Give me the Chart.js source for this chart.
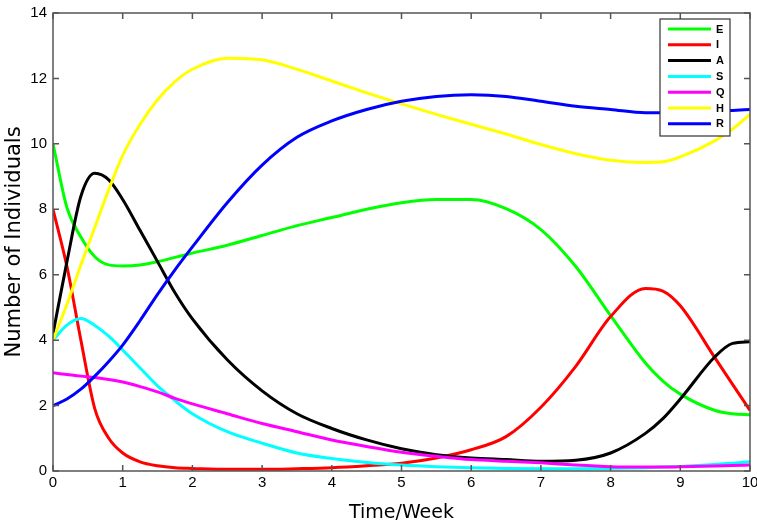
<!DOCTYPE html>
<html><head><meta charset="utf-8">
<script src="https://cdn.jsdelivr.net/npm/chart.js@4.4.0/dist/chart.umd.min.js"></script>
<style>html,body{margin:0;padding:0;background:#fff;}#wrap{width:757px;height:525px;}</style>
</head><body><div id="wrap"><canvas id="c" width="757" height="525"></canvas></div>
<script>
const time = [0,0.2,0.4,0.6,0.8,1,1.25,1.5,1.75,2,2.5,3,3.5,4,4.5,5,5.5,6,6.5,7,7.5,8,8.5,8.75,9,9.5,9.75,10];
const E = [10,8.05,7.15,6.55,6.3,6.27,6.3,6.4,6.53,6.66,6.9,7.2,7.5,7.75,8.0,8.2,8.3,8.3,8.02,7.38,6.25,4.75,3.3,2.75,2.35,1.85,1.75,1.72];
const I = [8,6.25,4.0,1.9,1.0,0.55,0.28,0.16,0.1,0.08,0.05,0.05,0.07,0.1,0.16,0.24,0.4,0.65,1.05,1.95,3.2,4.72,5.58,5.5,5.05,3.45,2.65,1.85];
const A = [4.2,6.4,8.4,9.1,8.9,8.3,7.35,6.4,5.45,4.65,3.4,2.45,1.75,1.3,0.95,0.68,0.5,0.4,0.35,0.3,0.33,0.55,1.15,1.6,2.2,3.5,3.9,3.95];
const S = [4.0,4.46,4.66,4.45,4.12,3.7,3.15,2.6,2.15,1.75,1.2,0.85,0.55,0.38,0.26,0.18,0.13,0.1,0.08,0.07,0.07,0.08,0.1,0.12,0.14,0.2,0.24,0.28];
const Q = [3.0,2.95,2.9,2.86,2.8,2.72,2.58,2.42,2.22,2.05,1.75,1.45,1.2,0.95,0.75,0.57,0.45,0.35,0.3,0.25,0.18,0.13,0.12,0.12,0.13,0.15,0.17,0.18];
const H = [4.0,5.1,6.3,7.45,8.6,9.65,10.6,11.35,11.9,12.28,12.62,12.57,12.28,11.92,11.56,11.22,10.9,10.6,10.3,9.98,9.7,9.5,9.43,9.45,9.6,10.1,10.45,10.9];
const R = [2.0,2.2,2.5,2.9,3.35,3.85,4.6,5.4,6.15,6.85,8.2,9.35,10.2,10.7,11.05,11.3,11.45,11.5,11.45,11.3,11.15,11.05,10.95,10.95,10.95,11.0,11.02,11.05];
const seriesNames = ['E','I','A','S','Q','H','R'];
const seriesValues = [E,I,A,S,Q,H,R];
const seriesColors = ['#00ff00','#ff0000','#000000','#00ffff','#ff00ff','#ffff00','#0000ff'];
const xTicks = [0,1,2,3,4,5,6,7,8,9,10];
const yTicks = [0,2,4,6,8,10,12,14];

const tickFont = {family:"'Liberation Sans Narrow','Liberation Sans',Arial,sans-serif", size:15};

const frame = {
  id:'frame',
  afterDatasetsDraw(chart){
    const {ctx, chartArea:a, scales:{x,y}} = chart;
    ctx.save();
    ctx.strokeStyle='#555'; ctx.lineWidth=1.5;
    ctx.strokeRect(a.left, a.top, a.right-a.left, a.bottom-a.top);
    ctx.beginPath();
    xTicks.forEach(v=>{const px=x.getPixelForValue(v);
      ctx.moveTo(px,a.bottom); ctx.lineTo(px,a.bottom-6);
      ctx.moveTo(px,a.top); ctx.lineTo(px,a.top+6);});
    yTicks.forEach(v=>{const py=y.getPixelForValue(v);
      ctx.moveTo(a.left,py); ctx.lineTo(a.left+6,py);
      ctx.moveTo(a.right,py); ctx.lineTo(a.right-6,py);});
    ctx.stroke();
    // legend
    const lx=660, ly=19, lw=70, lh=117;
    ctx.fillStyle='#fff'; ctx.fillRect(lx,ly,lw,lh);
    ctx.strokeStyle='#333'; ctx.lineWidth=1.2; ctx.strokeRect(lx,ly,lw,lh);
    ctx.font="bold 11px 'Liberation Sans',Arial,sans-serif";
    ctx.textBaseline='middle'; ctx.textAlign='left';
    chart.data.datasets.forEach((d,i)=>{
      const yy = ly+10+i*15.8;
      ctx.strokeStyle=d.borderColor; ctx.lineWidth=3;
      ctx.beginPath(); ctx.moveTo(lx+8,yy); ctx.lineTo(lx+51,yy); ctx.stroke();
      ctx.fillStyle='#000'; ctx.fillText(d.label, lx+56, yy+0.5);
    });
    ctx.restore();
  }
};

new Chart(document.getElementById('c'), {
  type:'line',
  data:{
    datasets: seriesNames.map((n,i)=>({
      label:n,
      data: time.map((t,k)=>({x:t,y:seriesValues[i][k]})),
      borderColor: seriesColors[i],
      backgroundColor: seriesColors[i],
      borderWidth:3,
      pointRadius:0,
      cubicInterpolationMode:'monotone',
      fill:false,
      order: seriesNames.length - i
    }))
  },
  options:{
    responsive:false, animation:false,
    layout:{padding:{top:13,right:7,left:0,bottom:0}},
    plugins:{legend:{display:false}, tooltip:{enabled:false}},
    scales:{
      x:{type:'linear', min:0, max:10,
        afterFit(s){s.height=54; s.paddingRight=0; s.paddingLeft=0;},
        grid:{display:false, drawTicks:false}, border:{display:false},
        afterBuildTicks(s){s.ticks = xTicks.map(v=>({value:v}));},
        ticks:{color:'#000', font:tickFont, padding:3, maxRotation:0},
        title:{display:true, text:'Time/Week', color:'#000',
          font:{family:"'DejaVu Sans',Verdana,sans-serif", size:19}, padding:{top:0,bottom:1}}
      },
      y:{type:'linear', min:0, max:14,
        afterFit(s){s.width=53; s.paddingTop=0;},
        grid:{display:false, drawTicks:false}, border:{display:false},
        afterBuildTicks(s){s.ticks = yTicks.map(v=>({value:v}));},
        ticks:{color:'#000', font:tickFont, padding:6},
        title:{display:true, text:'Number of Individuals', color:'#000',
          font:{family:"'DejaVu Sans',Verdana,sans-serif", size:21}, padding:{top:2,bottom:0}}
      }
    }
  },
  plugins:[frame]
});
</script></body></html>
